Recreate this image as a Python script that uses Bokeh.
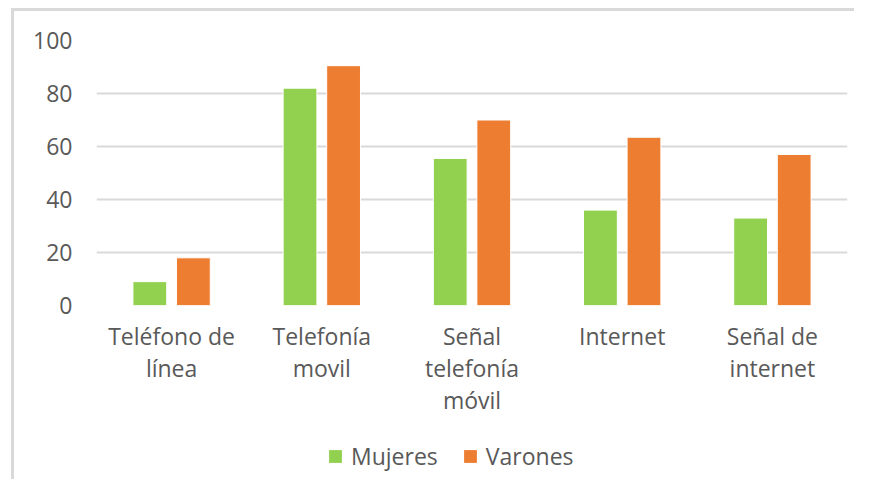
from bokeh.plotting import figure
from bokeh.layouts import column
from bokeh.models import (ColumnDataSource, Range1d, FactorRange, FixedTicker, Legend, LegendItem,
                          CategoricalAxis)
from bokeh.transform import dodge
from bokeh.embed import file_html
from bokeh.resources import INLINE

categories = ["Teléfono de línea", "Telefonía movil", "Señal telefonía móvil", "Internet", "Señal de internet"]
label_line1 = ["Teléfono de", "Telefonía", "Señal", "Internet", "Señal de"]
label_line2 = ["línea", "movil", "telefonía", "", "internet"]
label_line3 = ["", "", "móvil", "", ""]
mujeres = [9, 82, 55.5, 36, 33]
varones = [18, 90.5, 70, 63.5, 57]
y_ticks = [0, 20, 40, 60, 80, 100]
series_names = ["Mujeres", "Varones"]

GREEN = "#92D050"
ORANGE = "#ED7D31"
TEXT = "#595959"
GRID = "#D9D9D9"
FONT = "Open Sans"
FS = "23px"

source = ColumnDataSource(dict(cat=categories, mujeres=mujeres, varones=varones))

p = figure(x_range=FactorRange(factors=categories), y_range=Range1d(0, 100), width=854, height=420,
           output_backend="svg", toolbar_location=None,
           min_border_left=96, min_border_right=7, min_border_top=40, min_border_bottom=115,
           border_fill_color=None, background_fill_color=None, outline_line_color=None)

p.vbar(x=dodge("cat", -0.145, range=p.x_range), top="mujeres", width=0.225, source=source,
       fill_color=GREEN, line_color="white", line_width=1)
p.vbar(x=dodge("cat", 0.145, range=p.x_range), top="varones", width=0.225, source=source,
       fill_color=ORANGE, line_color="white", line_width=1)

p.yaxis.ticker = FixedTicker(ticks=y_ticks)
p.ygrid.ticker = FixedTicker(ticks=y_ticks)
p.ygrid.grid_line_color = GRID
p.ygrid.grid_line_width = 2
p.xgrid.grid_line_color = None
p.xaxis.visible = False


def style_axis(ax, standoff, size=FS):
    ax.axis_line_color = None
    ax.major_tick_line_color = None
    ax.minor_tick_line_color = None
    ax.major_tick_out = 0
    ax.major_tick_in = 0
    ax.major_label_text_color = TEXT
    ax.major_label_text_font = FONT
    ax.major_label_text_font_size = size
    ax.major_label_standoff = standoff


style_axis(p.yaxis[0], 24)


def unique_factors(lines):
    # empty lines become distinct zero-width strings so every factor is unique
    return [s if s else "\u200b" * (i + 1) for i, s in enumerate(lines)]


rows = [("line1", label_line1, 14), ("line2", label_line2, -3), ("line3", label_line3, -3)]
for name, lines, standoff in rows:
    p.extra_x_ranges[name] = FactorRange(factors=unique_factors(lines))
    ax = CategoricalAxis(x_range_name=name)
    style_axis(ax, standoff)
    p.add_layout(ax, "below")

# legend strip below the chart; its key renderers share the data but draw nothing visible
pl = figure(width=854, height=59, output_backend="svg", toolbar_location=None,
            x_range=FactorRange(factors=categories), y_range=Range1d(-2, -1),
            x_axis_location=None, y_axis_location=None, min_border=0,
            border_fill_color=None, background_fill_color=None, outline_line_color=None)
pl.grid.visible = False
k1 = pl.vbar(x="cat", top="mujeres", width=0, source=source, fill_color=GREEN, line_color=None)
k2 = pl.vbar(x="cat", top="varones", width=0, source=source, fill_color=ORANGE, line_color=None)

legend = Legend(items=[LegendItem(label=series_names[0], renderers=[k1]),
                       LegendItem(label=series_names[1], renderers=[k2])],
                location=(231, 7), orientation="horizontal",
                glyph_width=16, glyph_height=16, label_standoff=8, spacing=24,
                padding=0, margin=0, border_line_color=None, background_fill_color=None,
                label_text_font=FONT, label_text_font_size=FS, label_text_color=TEXT)
pl.add_layout(legend, "center")

page = column(p, pl, spacing=0,
              styles={"box-shadow": "inset 11px 0 0 0 #ffffff, inset 0 8px 0 0 #ffffff, "
                                    "inset 14px 0 0 0 #d9d9d9, inset 0 11px 0 0 #d9d9d9"})

open("out.html", "w").write(file_html(page, INLINE))
